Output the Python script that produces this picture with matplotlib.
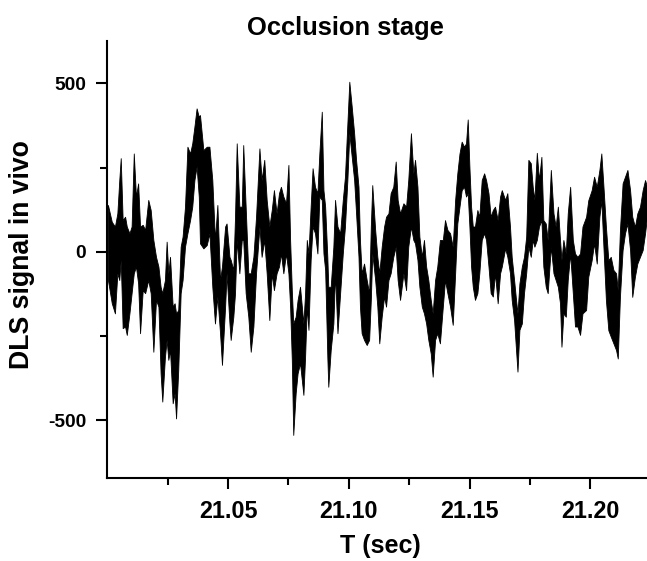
import matplotlib.pyplot as plt

# envelope of the DLS trace (top / bottom of the dense band)
t = [21.0003, 21.0019, 21.0032, 21.0042, 21.0050, 21.0056, 21.0064, 21.0074, 21.0081, 21.0092,
     21.0101, 21.0110, 21.0119, 21.0128, 21.0136, 21.0147, 21.0157, 21.0170, 21.0180, 21.0191,
     21.0202, 21.0212, 21.0221, 21.0228, 21.0239, 21.0246, 21.0253, 21.0260, 21.0271, 21.0279,
     21.0285, 21.0294, 21.0304, 21.0312, 21.0322, 21.0332, 21.0343, 21.0352, 21.0361, 21.0370,
     21.0379, 21.0384, 21.0398, 21.0412, 21.0423, 21.0435, 21.0446, 21.0456, 21.0467, 21.0475,
     21.0488, 21.0494, 21.0506, 21.0511, 21.0522, 21.0529, 21.0536, 21.0547, 21.0557, 21.0563,
     21.0573, 21.0584, 21.0594, 21.0605, 21.0616, 21.0630, 21.0639, 21.0650, 21.0660, 21.0671,
     21.0681, 21.0690, 21.0701, 21.0711, 21.0719, 21.0729, 21.0740, 21.0750, 21.0757, 21.0764,
     21.0770, 21.0780, 21.0788, 21.0798, 21.0812, 21.0819, 21.0826, 21.0833, 21.0842, 21.0850,
     21.0860, 21.0870, 21.0878, 21.0888, 21.0895, 21.0902, 21.0911, 21.0915, 21.0925, 21.0936,
     21.0943, 21.0953, 21.0964, 21.0975, 21.0984, 21.0994, 21.1002, 21.1012, 21.1022, 21.1030,
     21.1040, 21.1046, 21.1053, 21.1063, 21.1074, 21.1084, 21.1091, 21.1097, 21.1109, 21.1118,
     21.1126, 21.1136, 21.1146, 21.1154, 21.1164, 21.1173, 21.1184, 21.1194, 21.1202, 21.1212,
     21.1226, 21.1237, 21.1246, 21.1257, 21.1267, 21.1274, 21.1284, 21.1292, 21.1302, 21.1311,
     21.1320, 21.1329, 21.1339, 21.1347, 21.1357, 21.1366, 21.1377, 21.1389, 21.1398, 21.1408,
     21.1419, 21.1430, 21.1440, 21.1449, 21.1458, 21.1467, 21.1477, 21.1485, 21.1492, 21.1499,
     21.1506, 21.1513, 21.1522, 21.1532, 21.1540, 21.1550, 21.1560, 21.1568, 21.1578, 21.1587,
     21.1596, 21.1605, 21.1616, 21.1626, 21.1633, 21.1647, 21.1656, 21.1667, 21.1674, 21.1684,
     21.1692, 21.1698, 21.1706, 21.1716, 21.1725, 21.1734, 21.1743, 21.1753, 21.1761, 21.1768,
     21.1778, 21.1787, 21.1797, 21.1805, 21.1815, 21.1823, 21.1836, 21.1847, 21.1856, 21.1865,
     21.1874, 21.1880, 21.1888, 21.1898, 21.1906, 21.1916, 21.1927, 21.1936, 21.1946, 21.1957,
     21.1967, 21.1982, 21.1991, 21.2005, 21.2015, 21.2026, 21.2037, 21.2045, 21.2053, 21.2064,
     21.2074, 21.2084, 21.2095, 21.2106, 21.2113, 21.2122, 21.2133, 21.2143, 21.2153, 21.2164,
     21.2173, 21.2184, 21.2194, 21.2205, 21.2216, 21.2226, 21.2234]

upper = [139, 89, 75, 114, 213, 278, 94, 104, 75, 55,
         75, 292, 164, 203, 75, 80, 65, 154, 124, 35,
         -15, -44, -104, -123, -84, 30, -64, -15, -163, -153,
         -183, -173, 15, 45, 134, 312, 292, 322, 372, 426,
         401, 406, 302, 312, 312, 213, 35, 139, -84, -44,
         75, 84, -15, -24, -54, 104, 322, 134, 134, 317,
         134, -64, -64, -15, 104, 307, 213, 273, 154, 75,
         124, 183, 114, 174, 193, 164, 144, 258, 35, -114,
         -213, -193, -143, -104, -213, -123, 35, -5, 134, 248,
         193, 174, 292, 416, 183, 134, -15, -104, -104, 15,
         154, 75, 55, 154, 223, 381, 505, 431, 352, 273,
         193, 35, -64, -35, -84, -123, 75, 198, 65, -15,
         -64, 15, 75, 104, 114, 174, 193, 268, 154, 114,
         144, 134, 213, 352, 233, 273, 193, 45, -15, 35,
         -44, -84, -143, -183, -84, -44, 35, 35, 94, 65,
         55, 15, 154, 233, 292, 327, 312, 322, 393, 253,
         134, 75, 75, 124, 104, 213, 233, 213, 174, 104,
         124, 134, 94, 164, 183, 154, 174, 75, -15, -84,
         -143, -183, -94, -44, -15, 45, 273, 263, 193, 154,
         294, 213, 282, 94, 84, 35, 243, 114, 75, 134,
         35, -24, 35, -5, 114, 193, 35, -5, -15, -5,
         75, 104, 153, 183, 223, 193, 243, 292, 203, 74,
         -25, -15, -54, -64, -114, 64, 203, 223, 243, 183,
         104, 74, 114, 134, 183, 213, 193]

lower = [-84, -153, -183, -64, -84, -24, -227, -222, -247, -183,
         -123, -64, -44, -94, -242, -114, -123, -84, -123, -297,
         -143, -163, -361, -445, -312, -262, -321, -292, -450, -420,
         -495, -351, -123, -84, 15, 55, 94, 134, 213, 253,
         164, 25, 10, 20, 55, -104, -213, -133, -242, -336,
         -163, -64, -213, -262, -193, -123, 35, -64, 35, 35,
         -123, -193, -297, -222, -64, 75, -15, 35, -64, -203,
         -64, -114, -64, -44, -5, -64, -5, -64, -163, -321,
         -544, -420, -361, -331, -425, -312, -163, -232, -24, 75,
         55, -5, 164, 154, -5, -54, -312, -401, -292, -213,
         -64, -242, -123, -5, 75, 213, 352, 282, 213, 114,
         -15, -163, -242, -262, -277, -262, -143, -5, -84, -163,
         -272, -193, -133, -163, -84, -64, -15, 15, -84, -143,
         -64, -114, 15, 75, 35, 25, -24, -104, -163, -183,
         -213, -262, -302, -371, -262, -242, -272, -163, -84, -123,
         -163, -217, -64, 84, 134, 183, 193, 164, 174, 75,
         -44, -104, -143, -123, -64, 35, 55, 35, -44, -123,
         -133, -64, -153, -64, -44, 10, -15, -64, -143, -203,
         -292, -356, -232, -213, -123, -64, 15, -15, 35, 15,
         35, 75, 94, -44, -104, -123, 15, -64, -84, -104,
         -153, -282, -183, -193, -84, -5, -123, -222, -222, -247,
         -183, -173, -74, -25, 25, -35, 104, 153, 25, -144,
         -233, -252, -272, -292, -317, -134, 5, 55, 84, 5,
         -134, -74, -35, -15, 5, 55, 104]

x_major = [21.05, 21.10, 21.15, 21.20]
x_minor = [21.025, 21.075, 21.125, 21.175]
y_major = [-500, 0, 500]
y_minor = [-250, 250]

plt.rcParams['font.family'] = ['Liberation Sans', 'DejaVu Sans']
plt.rcParams['font.weight'] = 'bold'

W, H = 647, 561
fig = plt.figure(figsize=(W / 100, H / 100), dpi=100)
ax = fig.add_axes([107.2 / W, 83 / H, (W - 107.2) / W, (478 - 41) / H])

ax.fill_between(t, lower, upper, facecolor='black', edgecolor='black', linewidth=0.6)

ax.set_xlim(21.0, 21.2234)
ax.set_ylim(-672, 626)

ax.spines['top'].set_visible(False)
ax.spines['right'].set_visible(False)
for side in ('left', 'bottom'):
    ax.spines[side].set_linewidth(1.5)

ax.set_xticks(x_major)
ax.set_xticklabels([f'{v:.2f}' for v in x_major])
ax.set_xticks(x_minor, minor=True)
ax.set_yticks(y_major)
ax.set_yticklabels([str(v) for v in y_major])
ax.set_yticks(y_minor, minor=True)

ax.tick_params(which='both', direction='out', width=1.5)
ax.tick_params(which='major', length=8)
ax.tick_params(which='minor', length=5)
ax.tick_params(axis='x', labelsize=16.8, pad=8)
ax.tick_params(axis='y', labelsize=13.8, pad=7)

fig.text(345.7 / W, 1 - 35 / H, 'Occlusion stage', ha='center', va='baseline',
         fontsize=18.4, fontweight='bold')
fig.text(380 / W, 1 - 553 / H, 'T (sec)', ha='center', va='baseline',
         fontsize=18, fontweight='bold')
fig.text(22 / W, 1 - 255 / H, 'DLS signal in vivo', ha='center', va='center',
         rotation=90, fontsize=19.2, fontweight='bold')

fig.savefig('out.png', dpi=100)
